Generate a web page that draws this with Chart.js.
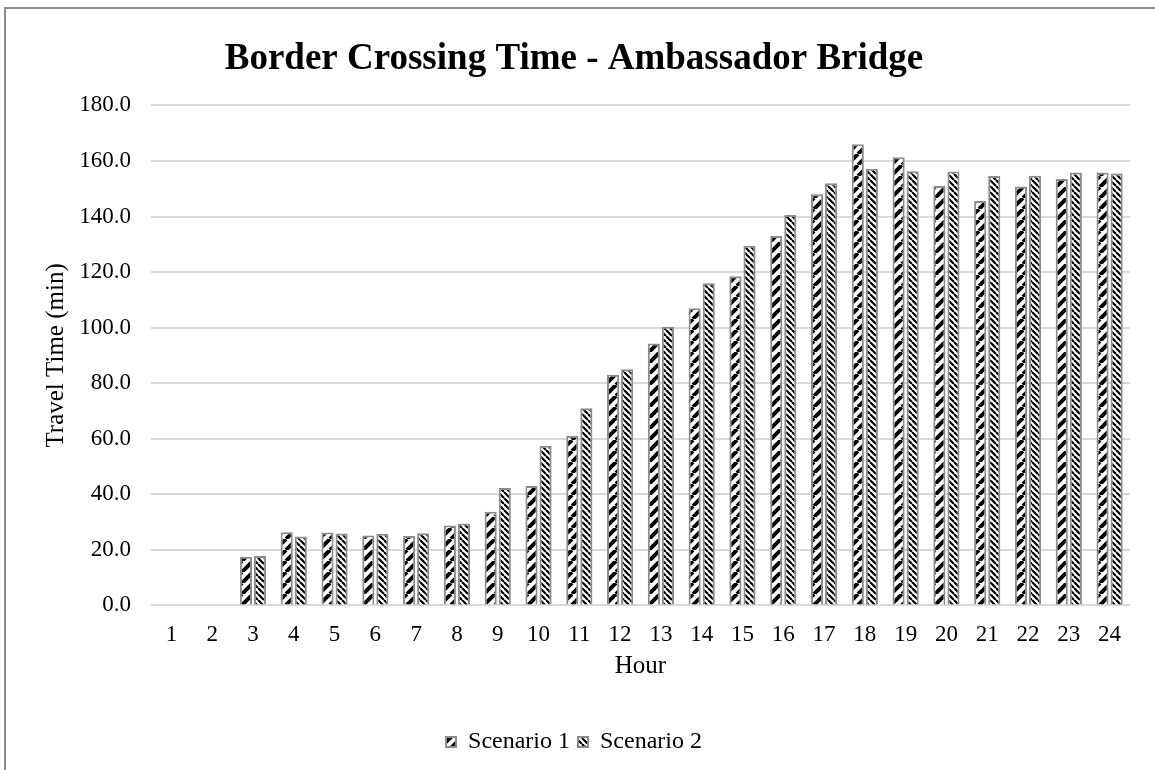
<!DOCTYPE html>
<html>
<head>
<meta charset="utf-8">
<title>Border Crossing Time - Ambassador Bridge</title>
<script src="https://cdn.jsdelivr.net/npm/chart.js@4/dist/chart.umd.min.js"></script>
<style>
  html, body { margin: 0; padding: 0; background: #fff; }
  #wrap { position: relative; width: 1155px; height: 770px; overflow: hidden; }
  #frame { position: absolute; left: 4px; top: 7px; width: 1170px; height: 790px; border: 2px solid #8c8c8c; box-sizing: border-box; }
  canvas { position: absolute; left: 0; top: 0; }
</style>
</head>
<body>
<div id="wrap">
  <div id="frame"></div>
  <canvas id="myChart" width="1155" height="770"></canvas>
</div>
<script>
const hours = ["1","2","3","4","5","6","7","8","9","10","11","12","13","14","15","16","17","18","19","20","21","22","23","24"];
const scenario1 = [null, null, 17.5, 26.3, 26.2, 25.2, 25.0, 28.8, 33.7, 43.0, 61.0, 83.0, 94.3, 107.0, 118.5, 133.0, 148.0, 166.0, 161.3, 151.0, 145.6, 150.8, 153.5, 155.8];
const scenario2 = [null, null, 17.8, 24.8, 25.9, 25.8, 26.0, 29.5, 42.3, 57.5, 71.0, 85.0, 100.3, 116.0, 129.5, 140.5, 152.0, 157.2, 156.3, 156.2, 154.6, 154.7, 155.8, 155.5];
const yTicks = [0, 20, 40, 60, 80, 100, 120, 140, 160, 180];

const serif = "'Liberation Serif', 'Times New Roman', serif";

// hatch fills: wide upward diagonal and dense downward diagonal
function makeHatch(size, band, upward) {
    const c = document.createElement('canvas');
    c.width = size;
    c.height = size;
    const g = c.getContext('2d');
    g.fillStyle = '#fff';
    g.fillRect(0, 0, size, size);
    g.strokeStyle = '#000';
    g.lineWidth = band;
    g.beginPath();
    for (let k = -1; k <= 1; k++) {
        if (upward) {
            g.moveTo(k * size, size);
            g.lineTo(k * size + size, 0);
        } else {
            g.moveTo(k * size, 0);
            g.lineTo(k * size + size, size);
        }
    }
    g.stroke();
    return g.createPattern(c, 'repeat');
}

const ctx = document.getElementById('myChart').getContext('2d');
const hatch1 = makeHatch(11, 4, true);
const hatch2 = makeHatch(6, 2.2, false);

new Chart(ctx, {
    type: 'bar',
    data: {
        labels: hours,
        datasets: [{
            label: 'Scenario 1',
            data: scenario1,
            backgroundColor: hatch1,
            borderColor: '#8c8c8c',
            borderWidth: 2,
            categoryPercentage: 0.69,
            barPercentage: 0.86
        }, {
            label: 'Scenario 2',
            data: scenario2,
            backgroundColor: hatch2,
            borderColor: '#8c8c8c',
            borderWidth: 2,
            categoryPercentage: 0.69,
            barPercentage: 0.86
        }]
    },
    options: {
        responsive: false,
        animation: false,
        layout: { padding: { left: 18, right: 25, top: 0, bottom: 6 } },
        plugins: {
            title: {
                display: true,
                text: 'Border Crossing Time - Ambassador Bridge',
                color: '#000',
                font: { family: serif, size: 37, weight: 'bold' },
                padding: { top: 37, bottom: 24 }
            },
            legend: {
                position: 'bottom',
                labels: {
                    color: '#000',
                    font: { family: serif, size: 24 },
                    boxWidth: 10,
                    boxHeight: 10,
                    padding: 8
                }
            },
            tooltip: { enabled: false }
        },
        scales: {
            x: {
                grid: { display: false },
                border: { display: false },
                ticks: { color: '#000', font: { family: serif, size: 23 }, maxRotation: 0, padding: 8 },
                title: {
                    display: true,
                    text: 'Hour',
                    color: '#000',
                    font: { family: serif, size: 25 },
                    padding: { top: -6, bottom: 41 }
                }
            },
            y: {
                min: 0,
                max: 180,
                afterBuildTicks: (scale) => {
                    scale.ticks = yTicks.map(v => ({ value: v }));
                },
                afterFit: (scale) => { scale.width = 133; },
                grid: { color: '#d9d9d9', lineWidth: 2, drawTicks: false },
                border: { display: false },
                ticks: {
                    color: '#000',
                    font: { family: serif, size: 23 },
                    padding: 20,
                    callback: (v) => Number(v).toFixed(1)
                },
                title: {
                    display: true,
                    text: 'Travel Time (min)',
                    color: '#000',
                    font: { family: serif, size: 25 },
                    padding: { top: 23, bottom: 0 }
                }
            }
        }
    }
});
</script>
</body>
</html>
